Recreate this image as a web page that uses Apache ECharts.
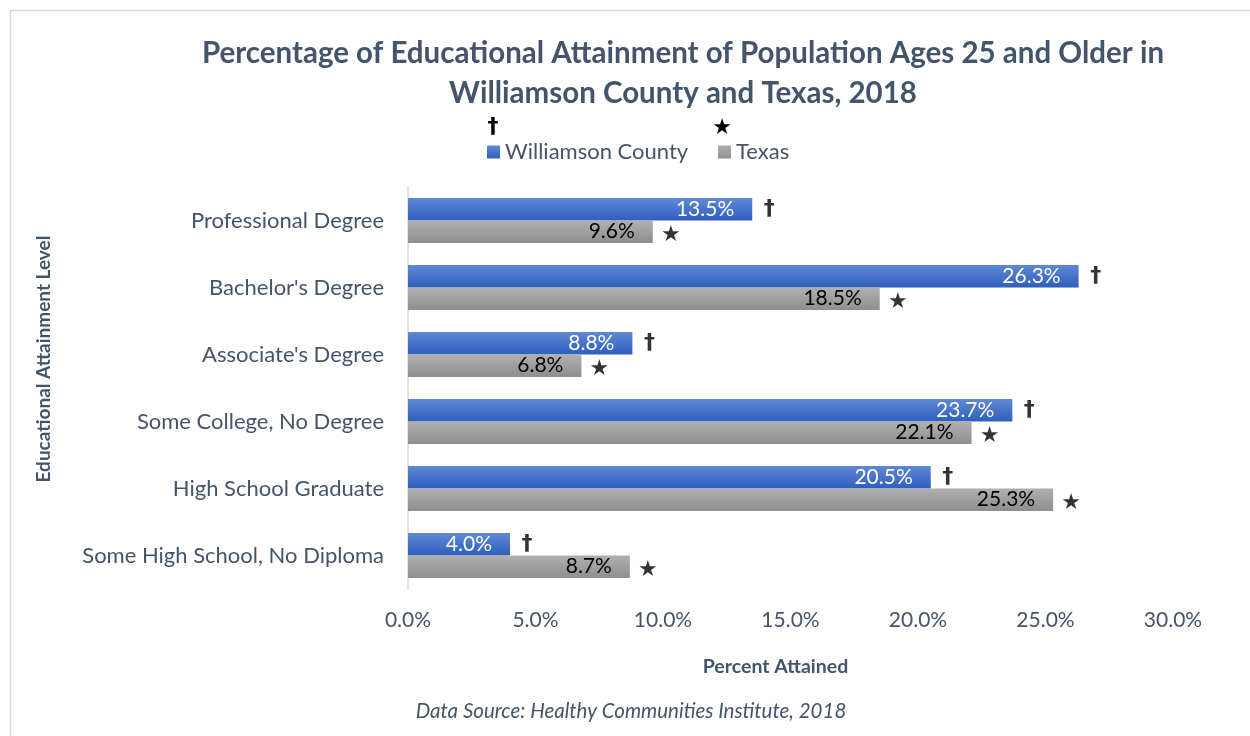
<!DOCTYPE html>
<html>
<head>
<meta charset="utf-8">
<script src="https://cdn.jsdelivr.net/npm/echarts@6/dist/echarts.min.js"></script>
<style>html,body{margin:0;padding:0;background:#fff;}#c{width:1250px;height:736px;}</style>
</head>
<body>
<div id="c"></div>
<script>
const categories = ["Professional Degree", "Bachelor's Degree", "Associate's Degree", "Some College, No Degree", "High School Graduate", "Some High School, No Diploma"];
const williamson = [13.5, 26.3, 8.8, 23.7, 20.5, 4.0];
const texas = [9.6, 18.5, 6.8, 22.1, 25.3, 8.7];
const xTicks = [0, 5, 10, 15, 20, 25, 30];
const seriesNames = ["Williamson County", "Texas"];
const marks = ["†", "★"];

const FONT = "Lato";
const TXT = "#44546A";

const chart = echarts.init(document.getElementById('c'));
const blueGrad = new echarts.graphic.LinearGradient(0, 0, 0, 1, [{offset: 0, color: '#6088D4'}, {offset: 1, color: '#2E5EBE'}]);
const grayGrad = new echarts.graphic.LinearGradient(0, 0, 0, 1, [{offset: 0, color: '#B0B0B0'}, {offset: 1, color: '#8E8E8E'}]);

chart.setOption({
  animation: false,
  textStyle: {fontFamily: FONT},
  title: {
    text: 'Percentage of Educational Attainment of Population Ages 25 and Older in\nWilliamson County and Texas, 2018',
    left: 678, textAlign: 'center', top: 28,
    textStyle: {fontFamily: FONT, fontSize: 29.5, fontWeight: 'bold', color: TXT, lineHeight: 40}
  },
  legend: [
    {data: [seriesNames[0]], left: 482, top: 136, icon: 'rect', itemWidth: 13, itemHeight: 13, itemGap: 8,
     textStyle: {fontFamily: FONT, fontSize: 22, color: TXT}},
    {data: [seriesNames[1]], left: 713, top: 136, icon: 'rect', itemWidth: 13, itemHeight: 13, itemGap: 8,
     textStyle: {fontFamily: FONT, fontSize: 22, color: TXT}}
  ],
  graphic: [
    {type: 'rect', left: 8, top: 8, shape: {width: 1300, height: 800}, style: {fill: 'none', stroke: '#D9D9D9', lineWidth: 1.5}, silent: true},
    {type: 'text', x: 493, y: 127, style: {text: marks[0], fontSize: 22, fontWeight: 'bold', fill: '#000', align: 'center', verticalAlign: 'middle', fontFamily: 'DejaVu Sans'}},
    {type: 'text', x: 722, y: 128, style: {text: marks[1], fontSize: 22, fill: '#000', align: 'center', verticalAlign: 'middle', fontFamily: 'DejaVu Sans'}},
    {type: 'text', x: 44, y: 359, rotation: Math.PI / 2, style: {text: 'Educational Attainment Level', fontSize: 19, fontWeight: 'bold', fill: TXT, align: 'center', verticalAlign: 'middle', fontFamily: FONT}},
    {type: 'text', x: 631, y: 711, style: {text: 'Data Source: Healthy Communities Institute, 2018', fontSize: 20.5, fontStyle: 'italic', fill: TXT, align: 'center', verticalAlign: 'middle', fontFamily: FONT}}
  ],
  grid: {left: 408, right: 77, top: 187, bottom: 147},
  xAxis: {
    type: 'value', min: 0, max: 30, interval: 5,
    axisLine: {show: false}, axisTick: {show: false}, splitLine: {show: false},
    axisLabel: {fontSize: 21, color: TXT, margin: 21, fontFamily: FONT, formatter: v => v.toFixed(1) + '%'},
    name: 'Percent Attained', nameLocation: 'middle', nameGap: 68,
    nameTextStyle: {fontSize: 19.5, fontWeight: 'bold', color: TXT, fontFamily: FONT, padding: [0, 30, 0, 0]}
  },
  yAxis: {
    type: 'category', data: categories, inverse: true,
    axisLine: {show: true, lineStyle: {color: '#D9D9D9', width: 1.5}},
    axisTick: {show: false},
    axisLabel: {fontSize: 22, color: TXT, margin: 24, fontFamily: FONT}
  },
  series: [
    {name: seriesNames[0], type: 'bar', data: williamson, barGap: '0%', barCategoryGap: '33%',
     itemStyle: {color: blueGrad},
     label: {show: true, position: 'insideRight', distance: 18, color: '#fff', fontSize: 21, fontFamily: FONT, formatter: p => p.value.toFixed(1) + '%'}},
    {name: seriesNames[1], type: 'bar', data: texas, barGap: '0%', barCategoryGap: '33%',
     itemStyle: {color: grayGrad},
     label: {show: true, position: 'insideRight', distance: 18, color: '#000', fontSize: 21, fontFamily: FONT, formatter: p => p.value.toFixed(1) + '%'}},
    {type: 'scatter', symbolSize: 0, silent: true,
     data: williamson.map((v, i) => [v, categories[i]]),
     label: {show: true, position: 'inside', offset: [17, -11], formatter: marks[0], fontSize: 22, fontWeight: 'bold', color: '#000', fontFamily: 'DejaVu Sans'}},
    {type: 'scatter', symbolSize: 0, silent: true,
     data: texas.map((v, i) => [v, categories[i]]),
     label: {show: true, position: 'inside', offset: [18, 15], formatter: marks[1], fontSize: 22, color: '#000', fontFamily: 'DejaVu Sans'}}
  ]
});
</script>
</body>
</html>
